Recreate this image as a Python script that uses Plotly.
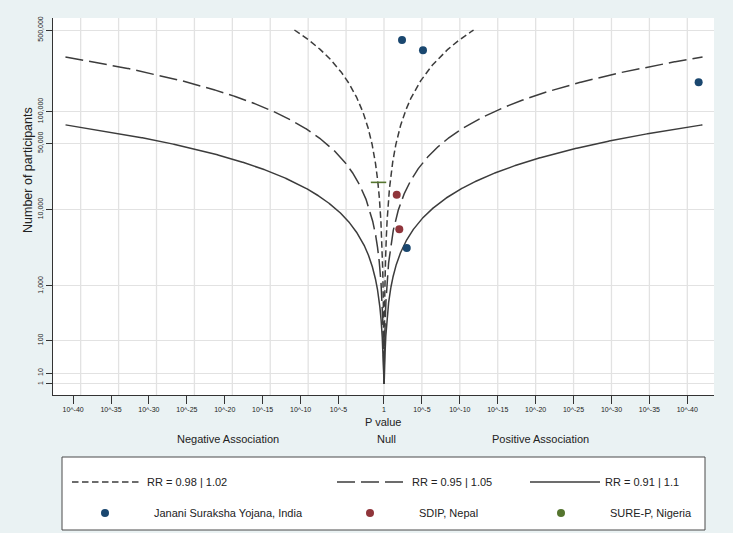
import math
import numpy as np
import plotly.graph_objects as go

# ------------------------------------------------------------------ data
CONTOUR_LABELS = ["RR = 0.98 | 1.02", "RR = 0.95 | 1.05", "RR = 0.91 | 1.1"]
CONTOUR_RR_LOW = [0.98, 0.95, 0.91]
CONTOUR_RR_HIGH = [1.02, 1.05, 1.10]
BASELINE_RISK = 0.5
CONTOUR_N_MAX = 500000
CONTOUR_MLOGP_MAX = 42.05

STUDY_NAMES = ["Janani Suraksha Yojana, India", "SDIP, Nepal", "SURE-P, Nigeria"]
JSY_P = [4.2e-3, 7.2e-6, 3.2e-42, 1.0e-3]
JSY_SIGN = [1, 1, 1, 1]
JSY_N = [415000, 341000, 182500, 3400]
SDIP_P = [2.1e-2, 9.6e-3]
SDIP_SIGN = [1, 1]
SDIP_N = [14700, 5850]
SUREP_P = [0.19]
SUREP_SIGN = [-1]
SUREP_N = [20000]

Y_TICK_N = [1, 10, 100, 1000, 10000, 50000, 100000, 500000]
Y_TICK_TEXT = ["1", "10", "100", "1,000", "10,000", "50,000", "100,000", "500,000"]
X_TICK_EXPONENTS = [5, 10, 15, 20, 25, 30, 35, 40]
SIDE_LABELS = ["Negative Association", "Null", "Positive Association"]

# ------------------------------------------------------------------ style / layout constants
LINE_COLOR = "#3c3c3c"
CONTOUR_DASH = ["6.5px,3.5px", "18px,6px", "solid"]
STUDY_COLORS = ["#1a476f", "#90353b", "#55752f"]
GRID_COLOR = "#e2e2e2"
TEXT_COLOR = "#222222"
FONT = "Liberation Sans, Arial, sans-serif"
W, H = 733, 533
ML, MR, MT, MB = 53, 19, 18, 138
PW, PH = W - ML - MR, H - MT - MB
LEFT_TICK_SHIFT = 1
SIDE_LABEL_X = [-20.57, 0.35, 20.62]


def px_x(px):
    return (px - ML) / PW


def px_y(py):
    return (H - MB - py) / PH


def y_of_n(n):
    return np.log10(np.asarray(n, dtype=float)) ** 2


def x_of_p(p, sign):
    return np.asarray(sign) * -np.log10(np.asarray(p, dtype=float))


def contour(rr):
    n = np.logspace(0, math.log10(CONTOUR_N_MAX), 5000)
    p0 = BASELINE_RISK
    p1 = p0 * rr
    se = np.sqrt((1 - p1) / (p1 * n / 2) + (1 - p0) / (p0 * n / 2))
    z = abs(math.log(rr)) / se
    mlp = np.array([-math.log10(math.erfc(v / math.sqrt(2))) for v in z])
    keep = mlp <= CONTOUR_MLOGP_MAX
    n, mlp = n[keep], mlp[keep]
    xs = np.concatenate([-mlp[::-1], mlp])
    ys = np.concatenate([y_of_n(n)[::-1], y_of_n(n)])
    return xs, ys


fig = go.Figure()

legend_names = ["legend", "legend2", "legend3", "legend4", "legend5", "legend6"]

for i, (lab, rr) in enumerate(zip(CONTOUR_LABELS, CONTOUR_RR_HIGH)):
    xs, ys = contour(rr)
    fig.add_trace(go.Scatter(
        x=xs, y=ys, mode="lines", name=lab, legend=legend_names[i],
        line=dict(color=LINE_COLOR, width=1.5, dash=CONTOUR_DASH[i]),
        hoverinfo="skip"))

fig.add_trace(go.Scatter(
    x=x_of_p(JSY_P, JSY_SIGN), y=y_of_n(JSY_N), mode="markers", name=STUDY_NAMES[0],
    legend=legend_names[3], marker=dict(color=STUDY_COLORS[0], size=8)))
fig.add_trace(go.Scatter(
    x=x_of_p(SDIP_P, SDIP_SIGN), y=y_of_n(SDIP_N), mode="markers", name=STUDY_NAMES[1],
    legend=legend_names[4], marker=dict(color=STUDY_COLORS[1], size=8)))
fig.add_trace(go.Scatter(
    x=x_of_p(SUREP_P, SUREP_SIGN), y=y_of_n(SUREP_N), mode="markers", name=STUDY_NAMES[2],
    showlegend=False,
    marker=dict(symbol="line-ew", size=11, color=STUDY_COLORS[2],
                line=dict(color=STUDY_COLORS[2], width=1.6))))
fig.add_trace(go.Scatter(
    x=[None], y=[None], mode="markers", name=STUDY_NAMES[2], legend=legend_names[5],
    marker=dict(color=STUDY_COLORS[2], size=8)))

# x ticks: left side labels sit one unit outward of the grid lines (as in the original)
left_vals = [-(e + LEFT_TICK_SHIFT) for e in reversed(X_TICK_EXPONENTS)]
right_vals = list(X_TICK_EXPONENTS)
x_tickvals = left_vals + [0] + right_vals
x_ticktext = ["10^-%d" % e for e in reversed(X_TICK_EXPONENTS)] + ["1"] + ["10^-%d" % e for e in X_TICK_EXPONENTS]
grid_x = [-e for e in reversed(X_TICK_EXPONENTS)] + [0] + list(X_TICK_EXPONENTS)

shapes = []
for gx in grid_x:
    shapes.append(dict(type="line", xref="x", yref="paper", x0=gx, x1=gx, y0=0, y1=1,
                       layer="below", line=dict(color=GRID_COLOR, width=1.3)))
# legend frame
shapes.append(dict(type="rect", xref="paper", yref="paper",
                   x0=px_x(62), x1=px_x(705), y0=px_y(530), y1=px_y(457),
                   fillcolor="white", line=dict(color="#4a4a4a", width=1), layer="below"))


def leg(px_left, py_center, itemwidth):
    return dict(x=px_x(px_left), xanchor="left", y=px_y(py_center), yanchor="middle",
                orientation="h", bgcolor="rgba(0,0,0,0)", borderwidth=0,
                itemwidth=itemwidth, font=dict(size=11, color=TEXT_COLOR, family=FONT),
                itemclick=False, itemdoubleclick=False)


row1, row2 = 482, 513
layout_legends = {
    "legend": leg(67, row1, 70),
    "legend2": leg(332, row1, 70),
    "legend3": leg(525, row1, 70),
    "legend4": leg(56, row2, 88),
    "legend5": leg(321, row2, 88),
    "legend6": leg(512, row2, 88),
}

annotations = [
    dict(text="Number of participants", xref="paper", yref="paper", x=px_x(28), y=px_y(170),
         textangle=-90, showarrow=False, font=dict(size=12.5, color=TEXT_COLOR),
         xanchor="center", yanchor="middle"),
    dict(text="P value", xref="x", yref="paper", x=0, y=px_y(421.7), showarrow=False,
         font=dict(size=11, color=TEXT_COLOR), xanchor="center", yanchor="middle"),
]
for lab, lx in zip(SIDE_LABELS, SIDE_LABEL_X):
    annotations.append(dict(text=lab, xref="x", yref="paper", x=lx, y=px_y(439), showarrow=False,
                            font=dict(size=11, color=TEXT_COLOR), xanchor="center", yanchor="middle"))

fig.update_layout(
    width=W, height=H,
    margin=dict(l=ML, r=MR, t=MT, b=MB, pad=0, autoexpand=False),
    paper_bgcolor="#EAF2F3", plot_bgcolor="white",
    font=dict(family=FONT, color=TEXT_COLOR),
    shapes=shapes, annotations=annotations,
    xaxis=dict(range=[-43.65, 43.52], tickmode="array", tickvals=x_tickvals, ticktext=x_ticktext,
               ticks="outside", ticklen=7.5, tickwidth=1, tickcolor="#333333",
               showgrid=False, zeroline=False, showline=True, linecolor="#333333", linewidth=1,
               tickfont=dict(size=7, color=TEXT_COLOR), tickangle=0, fixedrange=True,
               automargin=False),
    yaxis=dict(range=[-1.01, 33.58], tickmode="array", tickvals=list(y_of_n(Y_TICK_N)),
               ticktext=Y_TICK_TEXT, tickangle=-90,
               ticks="outside", ticklen=6.5, tickwidth=1, tickcolor="#333333",
               showgrid=True, gridcolor=GRID_COLOR, gridwidth=1.3, zeroline=False,
               showline=True, linecolor="#333333", linewidth=1,
               tickfont=dict(size=7, color=TEXT_COLOR), fixedrange=True, automargin=False),
    **layout_legends,
)

fig.write_html("out.html", config={"displayModeBar": False},
               post_script="document.body.style.margin='0';document.body.style.padding='0';")
